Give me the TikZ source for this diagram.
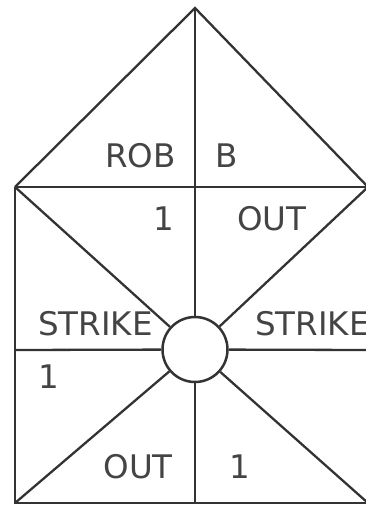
\documentclass[tikz,border=0pt]{standalone}
\usepackage{fontspec}
\setmainfont{DejaVu Sans}
\usetikzlibrary{positioning}
\definecolor{inkgray}{HTML}{333333}
\definecolor{textgray}{HTML}{444444}

\begin{document}
\begin{tikzpicture}[
        x=1pt, y=-1pt,
        edge/.style={draw=inkgray, line width=2.3pt},
        lbl/.style={font=\fontsize{32.5}{32.5}\selectfont, text=textgray, inner sep=0pt},
        ballnode/.style={circle, draw=inkgray, line width=2.5pt, minimum size=65pt, inner sep=0pt}
    ]
    \useasboundingbox (0,0) rectangle (366,506);
    \clip (0,0) rectangle (366,506);

    % === corners ===
    \coordinate (apex) at (195,8);
    \coordinate (tl) at (15,187);
    \coordinate (tr) at (368,187);
    \coordinate (bl) at (15,503);
    \coordinate (br) at (368,503);
    \coordinate (midl) at (15,350);
    \coordinate (midr) at (368,350);
    \coordinate (bottom) at (195,503);

    % Ball in the middle
    \node[ballnode] (ball) at (195,349.5) {};

    % Outline: roof and box
    \draw[edge] (tl) -- (apex) -- (tr);
    \draw[edge] (tl) -- (tr);
    \draw[edge] (tl) -- (bl) -- (br);

    % Spokes to the ball
    \draw[edge] (apex) -- (ball);
    \draw[edge] (bottom) -- (ball);
    \draw[edge] (midl) -- (ball);
    \draw[edge] (midr) -- (ball);
    \draw[edge] (tl) -- (ball);
    \draw[edge] (tr) -- (ball);
    \draw[edge] (bl) -- (ball);
    \draw[edge] (br) -- (ball);

    % === labels ===
    \node[lbl, anchor=base east] (rob) at (176,167) {ROB};
    \node[lbl, anchor=base west] (b) at (215,167) {B};
    \node[lbl, anchor=base east] (oneA) at (174,230) {1};
    \node[lbl, anchor=base west] (outA) at (237,230) {OUT};
    \node[lbl, anchor=base west] (strikeL) at (38,335) {STRIKE};
    \node[lbl, anchor=base west] (strikeR) at (255,335) {STRIKE};
    \node[lbl, anchor=base west] (oneB) at (38,388) {1};
    \node[lbl, anchor=base east] (outB) at (173,478) {OUT};
    \node[lbl, anchor=base west] (oneC) at (229,478) {1};
\end{tikzpicture}
\end{document}
